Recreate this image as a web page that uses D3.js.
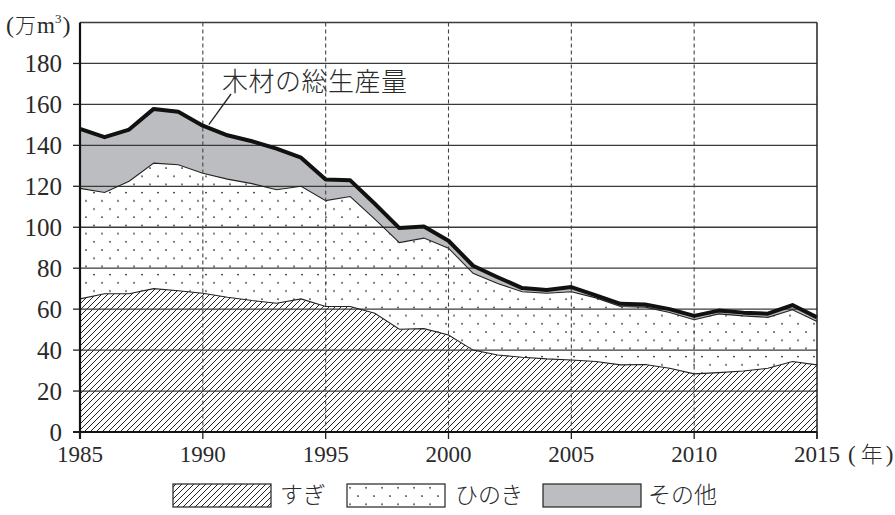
<!DOCTYPE html>
<html><head><meta charset="utf-8">
<script src="https://cdn.jsdelivr.net/npm/d3@7"></script>
<style>
body{margin:0;background:#fff;}
svg{display:block;}
text{font-family:"Liberation Serif","Times New Roman","DejaVu Serif","Noto Sans CJK JP",serif;fill:#2a2a2a;}
.jp{font-family:"Noto Sans CJK JP",sans-serif;font-weight:300;}
.sf{font-family:"Liberation Serif","Times New Roman","DejaVu Serif",serif;}
</style></head>
<body><svg id="c" width="895" height="515"></svg>
<script>
const years = d3.range(1985, 2016);
const sugi = [65, 67.5, 67.5, 70, 69, 67.8, 65.8, 64.2, 62.9, 65, 61.3, 61.3, 58, 50.2, 50.5, 47.4, 40, 37.6, 36.5, 35.7, 35.2, 34.4, 32.8, 33, 31.1, 28.4, 29, 29.8, 31.1, 34.4, 32.8];
const hinoki = [54, 49.5, 55, 61.3, 61.5, 58.6, 57.7, 57.1, 55.4, 55, 51.7, 53.7, 46, 42.3, 44.2, 42.4, 37.5, 34.9, 32, 32.1, 33.3, 31.1, 28.5, 28, 27.3, 26.4, 28.7, 26.9, 24.9, 25.3, 21.2];
const sonota = [29, 27, 25.2, 26.5, 25.9, 23.2, 21.4, 20.7, 20.1, 14, 10.3, 7.9, 7.5, 7.1, 5.7, 3.6, 3.7, 3.1, 1.8, 1.6, 2.3, 1.2, 1.3, 1.3, 1.6, 1.9, 1.6, 1.6, 1.8, 2.3, 2];
const yTicks = [0, 20, 40, 60, 80, 100, 120, 140, 160, 180];
const xTicks = [1985, 1990, 1995, 2000, 2005, 2010, 2015];
const seriesNames = ["すぎ", "ひのき", "その他"];
const annotation = "木材の総生産量";

const svg = d3.select("#c");
const L = 80, R = 817, T = 22.5, B = 432;
const x = d3.scaleLinear().domain([1985, 2015]).range([L, R]);
const y = d3.scaleLinear().domain([0, 200]).range([B, T]);

const defs = svg.append("defs");
const hatch = defs.append("pattern").attr("id", "hatch").attr("patternUnits", "userSpaceOnUse")
  .attr("width", 6).attr("height", 6);
hatch.append("rect").attr("width", 6).attr("height", 6).attr("fill", "#fff");
hatch.append("path").attr("d", "M-1,1 l2,-2 M0,6 l6,-6 M5,7 l2,-2").attr("stroke", "#222").attr("stroke-width", 1);
const dots = defs.append("pattern").attr("id", "dots").attr("patternUnits", "userSpaceOnUse")
  .attr("width", 16).attr("height", 16.4).attr("x", 4).attr("y", 2);
dots.append("rect").attr("width", 16).attr("height", 16.4).attr("fill", "#fff");
dots.append("circle").attr("cx", 2).attr("cy", 2).attr("r", 0.9).attr("fill", "#222");
dots.append("circle").attr("cx", 10).attr("cy", 10.2).attr("r", 0.9).attr("fill", "#222");

const rows = years.map((yr, i) => ({yr, s: sugi[i], sh: sugi[i] + hinoki[i], t: sugi[i] + hinoki[i] + sonota[i]}));

const area = (lo, hi) => d3.area().x(d => x(d.yr)).y0(d => y(lo(d))).y1(d => y(hi(d)));
svg.append("path").datum(rows).attr("d", area(d => d.sh, d => d.t)).attr("fill", "#bcbdc0");
svg.append("path").datum(rows).attr("d", area(d => d.s, d => d.sh)).attr("fill", "url(#dots)");
svg.append("path").datum(rows).attr("d", area(d => 0, d => d.s)).attr("fill", "url(#hatch)");

// horizontal gridlines
svg.append("g").selectAll("line").data(yTicks.concat([200])).join("line")
  .attr("x1", L).attr("x2", R).attr("y1", d => y(d)).attr("y2", d => y(d))
  .attr("stroke", "#3a3a3a").attr("stroke-width", 1.3);

// boundary lines
const line = f => d3.line().x(d => x(d.yr)).y(d => y(f(d)));
svg.append("path").datum(rows).attr("d", line(d => d.s)).attr("fill", "none").attr("stroke", "#222").attr("stroke-width", 1.1);
svg.append("path").datum(rows).attr("d", line(d => d.sh)).attr("fill", "none").attr("stroke", "#222").attr("stroke-width", 1.1);

// vertical dashed lines
svg.append("g").selectAll("line").data(xTicks.slice(1, -1)).join("line")
  .attr("x1", d => x(d)).attr("x2", d => x(d)).attr("y1", T).attr("y2", B)
  .attr("stroke", "#444").attr("stroke-width", 1.1).attr("stroke-dasharray", "4,3");

svg.append("path").datum(rows).attr("d", line(d => d.t)).attr("fill", "none").attr("stroke", "#111").attr("stroke-width", 4).attr("stroke-linejoin", "round");

// frame
svg.append("line").attr("x1", R).attr("x2", R).attr("y1", T).attr("y2", B + 7).attr("stroke", "#222").attr("stroke-width", 1.5);
svg.append("line").attr("x1", L).attr("x2", L).attr("y1", T).attr("y2", B + 7).attr("stroke", "#111").attr("stroke-width", 2.2);
svg.append("line").attr("x1", L - 7).attr("x2", R).attr("y1", B).attr("y2", B).attr("stroke", "#111").attr("stroke-width", 2);

// y axis ticks + labels
const ya = svg.append("g");
ya.selectAll("line").data(yTicks).join("line")
  .attr("x1", L - 7).attr("x2", L).attr("y1", d => y(d)).attr("y2", d => y(d)).attr("stroke", "#222").attr("stroke-width", 1.3);
ya.selectAll("text").data(yTicks).join("text").attr("class", "sf")
  .attr("x", 62).attr("y", d => y(d)).attr("dy", "0.34em").attr("text-anchor", "end")
  .attr("font-size", 25).text(d => d);

// x axis ticks + labels
const xa = svg.append("g");
xa.selectAll("line").data(xTicks).join("line")
  .attr("x1", d => x(d)).attr("x2", d => x(d)).attr("y1", B).attr("y2", B + 7).attr("stroke", "#222").attr("stroke-width", 1.3);
xa.selectAll("text").data(xTicks).join("text").attr("class", "sf")
  .attr("x", d => x(d)).attr("y", 462).attr("text-anchor", "middle")
  .attr("font-size", 23).text(d => d);
const yr = svg.append("text").attr("x", 848).attr("y", 462).attr("font-size", 23);
yr.append("tspan").attr("class", "sf").text("(");
yr.append("tspan").attr("class", "jp").attr("dx", 5).attr("font-size", 22).text("年");
yr.append("tspan").attr("class", "sf").attr("dx", 3).text(")");

// y unit label
const u = svg.append("text").attr("x", 6).attr("y", 33).attr("font-size", 24);
u.append("tspan").attr("class", "sf").text("(");
u.append("tspan").attr("class", "jp").attr("font-size", 21).attr("dx", 1).text("万");
u.append("tspan").attr("class", "sf").attr("font-size", 23).attr("dx", 1).text("m");
u.append("tspan").attr("class", "sf").attr("font-size", 13).attr("dy", -10).text("3");
u.append("tspan").attr("class", "sf").attr("dy", 10).attr("dx", 1).text(")");

// annotation
svg.append("line").attr("x1", 231).attr("y1", 94).attr("x2", x(1990) + 6).attr("y2", y(rows[5].t) - 1)
  .attr("stroke", "#222").attr("stroke-width", 1.3);
svg.append("text").attr("class", "jp").attr("x", 222).attr("y", 91).attr("font-size", 26)
  .attr("letter-spacing", 0.5).text(annotation);

// legend
const lg = svg.append("g");
const fills = ["url(#hatch)", "url(#dots)", "#bcbdc0"];
const bx = [173, 347, 543];
const tx = [280, 455, 648];
seriesNames.forEach((n, i) => {
  lg.append("rect").attr("x", bx[i]).attr("y", 484).attr("width", 98).attr("height", 23)
    .attr("fill", fills[i]).attr("stroke", "#222").attr("stroke-width", 1.2);
  lg.append("text").attr("class", "jp").attr("x", tx[i]).attr("y", 503).attr("font-size", 23).text(n);
});
</script></body></html>
